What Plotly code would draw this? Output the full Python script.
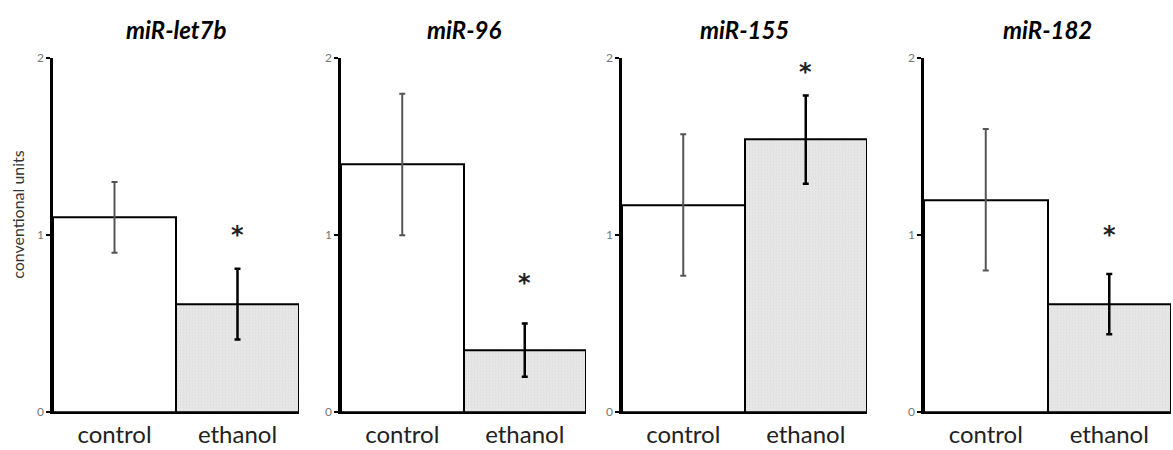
import plotly.graph_objects as go

W, H = 1173, 450

titles = ["miR-let7b", "miR-96", "miR-155", "miR-182"]
groups = ["control", "ethanol"]
control_vals = [1.10, 1.40, 1.17, 1.20]
control_err = [0.20, 0.40, 0.40, 0.40]
ethanol_vals = [0.61, 0.35, 1.54, 0.61]
ethanol_err = [0.20, 0.15, 0.25, 0.17]
star_y = [1.00, 0.73, 1.92, 1.00]
y_ticks = [0, 1, 2]

# panel pixel extents (left, right)
panels_px = [(53, 299), (341, 586), (622, 867), (924, 1171)]
y_top_px, y_bot_px = 52, 418

fig = go.Figure()
FONT = "Lato, Open Sans, sans-serif"

layout = dict(
    width=W, height=H,
    margin=dict(l=0, r=0, t=0, b=0),
    paper_bgcolor="white", plot_bgcolor="white",
    showlegend=False, bargap=0,
    font=dict(family=FONT),
)
annotations = []

for i in range(4):
    ax = "" if i == 0 else str(i + 1)
    xa, ya = "x" + ax, "y" + ax
    l, r = panels_px[i]
    fig.add_trace(go.Bar(
        x=[groups[0]], y=[control_vals[i]], xaxis=xa, yaxis=ya,
        marker=dict(color="white", line=dict(color="black", width=2)),
        error_y=dict(type="data", array=[control_err[i]], color="#555555",
                     thickness=2, width=3),
        width=1, offset=-0.5,
    ))
    fig.add_trace(go.Bar(
        x=[groups[1]], y=[ethanol_vals[i]], xaxis=xa, yaxis=ya,
        marker=dict(color="#e2e2e2", line=dict(color="black", width=2),
                    pattern=dict(shape=".", size=3, solidity=0.15,
                                 fgcolor="#cfcfcf", bgcolor="#e6e6e6")),
        error_y=dict(type="data", array=[ethanol_err[i]], color="black",
                     thickness=2.5, width=3),
        width=1, offset=-0.5,
    ))
    layout["xaxis" + ax] = dict(
        domain=[l / W, r / W], anchor=ya,
        categoryorder="array", categoryarray=groups,
        range=[-0.5, 1.5], showgrid=False, zeroline=False,
        showline=True, linecolor="black", linewidth=2,
        ticks="", tickfont=dict(size=24, color="#222222", family=FONT),
        fixedrange=True,
    )
    layout["yaxis" + ax] = dict(
        domain=[1 - y_bot_px / H, 1 - y_top_px / H], anchor=xa,
        range=[0, 2], tickvals=y_ticks, showgrid=False, zeroline=False,
        showline=True, linecolor="black", linewidth=2.5,
        ticks="outside", ticklen=4, tickwidth=2, tickcolor="black",
        tickfont=dict(size=12, color="#777777", family=FONT),
        fixedrange=True,
    )
    annotations.append(dict(
        text="<b><i>%s</i></b>" % titles[i], xref="paper", yref="paper",
        x=(l + r) / 2 / W, y=1 - 22 / H, xanchor="center", yanchor="middle",
        showarrow=False, font=dict(size=24, color="black", family=FONT),
    ))
    annotations.append(dict(
        text="<b>*</b>", xref=xa, yref=ya, x=groups[1], y=star_y[i],
        xanchor="center", yanchor="middle", showarrow=False,
        font=dict(size=24, color="#222222", family="DejaVu Sans"),
    ))

annotations.append(dict(
    text="conventional units", xref="paper", yref="paper",
    x=18 / W, y=1 - 214 / H, xanchor="center", yanchor="middle",
    textangle=-90, showarrow=False,
    font=dict(size=16, color="#333333", family=FONT),
))

layout["annotations"] = annotations
fig.update_layout(**layout)
fig.write_html("out.html")
